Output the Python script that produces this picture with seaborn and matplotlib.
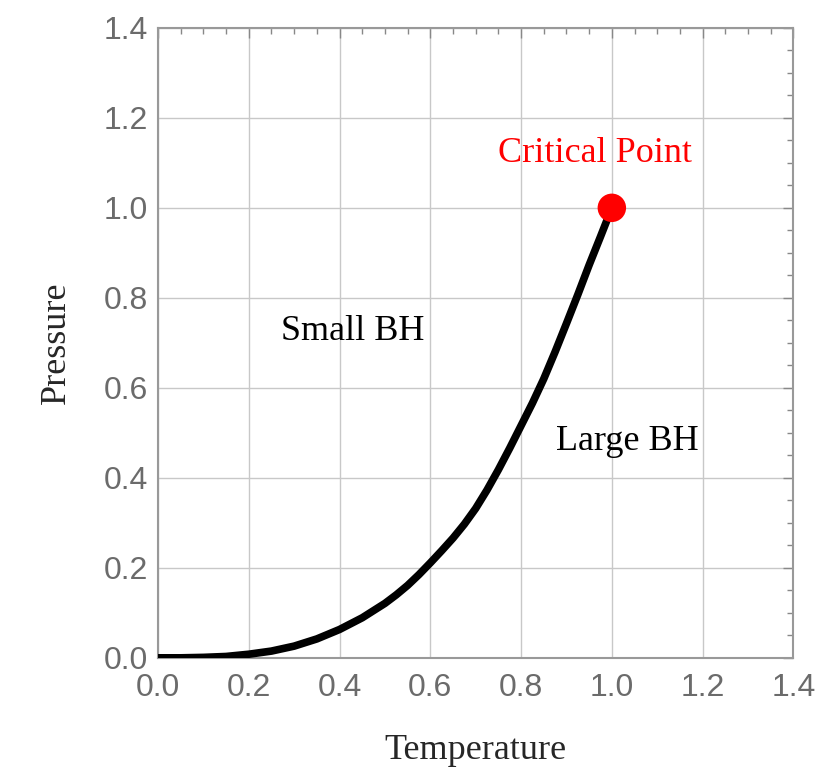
import matplotlib
matplotlib.use("Agg")
import matplotlib.pyplot as plt
from matplotlib.ticker import MultipleLocator, FormatStrFormatter
import pandas as pd
import seaborn as sns

# curva de coexistencia
temperature = [0.0, 0.05, 0.1, 0.15, 0.2, 0.25, 0.3, 0.35, 0.4, 0.45, 0.5,
               0.525, 0.55, 0.575, 0.6, 0.625, 0.65, 0.675, 0.7, 0.725, 0.75,
               0.775, 0.8, 0.825, 0.85, 0.875, 0.9, 0.925, 0.95, 0.975, 1.0]
pressure = [0.0, 0.0, 0.001, 0.003, 0.008, 0.015, 0.026, 0.042, 0.063, 0.089, 0.121,
            0.14, 0.161, 0.185, 0.211, 0.238, 0.266, 0.297, 0.332, 0.373, 0.418,
            0.466, 0.516, 0.566, 0.62, 0.68, 0.743, 0.807, 0.873, 0.936, 1.0]

critical_T = [1.0]
critical_P = [1.0]

df = pd.DataFrame({'T': temperature, 'P': pressure})
df_crit = pd.DataFrame({'T': critical_T, 'P': critical_P})

sns.set_style("white")
serif = ['Liberation Serif', 'DejaVu Serif']
sans = ['Liberation Sans', 'DejaVu Sans']
plt.rcParams['font.family'] = sans

fig = plt.figure(figsize=(8.23, 7.73), dpi=100)
ax = fig.add_axes([0.192, 0.149, 0.772, 0.815])

sns.lineplot(data=df, x='T', y='P', color='black', linewidth=5.5, ax=ax,
             solid_capstyle='butt', solid_joinstyle='round', zorder=3)
sns.scatterplot(data=df_crit, x='T', y='P', color='#ff0000', s=420,
                edgecolor='none', ax=ax, zorder=4, clip_on=False)

ax.set_xlim(0, 1.4)
ax.set_ylim(0, 1.4)
ax.xaxis.set_major_locator(MultipleLocator(0.2))
ax.yaxis.set_major_locator(MultipleLocator(0.2))
ax.xaxis.set_minor_locator(MultipleLocator(0.05))
ax.yaxis.set_minor_locator(MultipleLocator(0.05))
ax.xaxis.set_major_formatter(FormatStrFormatter('%.1f'))
ax.yaxis.set_major_formatter(FormatStrFormatter('%.1f'))
ax.grid(True, which='major', color='#c8c8c8', linewidth=1.0)

ax.tick_params(which='both', direction='in', top=True, right=True,
               color='#888888', width=1.0)
ax.tick_params(which='major', length=7, labelsize=23, labelcolor='#6b6b6b')
ax.tick_params(axis='x', which='major', pad=11)
ax.tick_params(axis='y', which='major', pad=7)
ax.tick_params(which='minor', length=4)

for s in ax.spines.values():
    s.set_color('#999999')
    s.set_linewidth(1.5)

ax.set_xlabel('Temperature', fontsize=26, family=serif, labelpad=22)
ax.set_ylabel('Pressure', fontsize=26, family=serif, labelpad=22)

ax.text(0.963, 1.12, 'Critical Point', color='#ff0000', fontsize=26,
        family=serif, ha='center', va='center')
ax.text(0.43, 0.726, 'Small BH', color='black', fontsize=26,
        family=serif, ha='center', va='center')
ax.text(1.034, 0.48, 'Large BH', color='black', fontsize=26,
        family=serif, ha='center', va='center')

fig.savefig('out.png', dpi=100)
